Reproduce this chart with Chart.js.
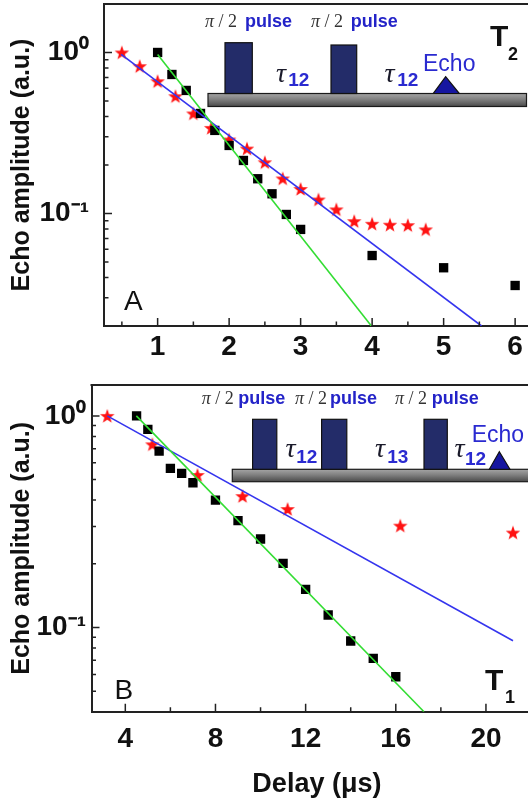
<!DOCTYPE html>
<html><head><meta charset="utf-8">
<script src="https://cdn.jsdelivr.net/npm/chart.js@4.4.1/dist/chart.umd.min.js"></script>
<style>
html,body{margin:0;padding:0;background:#fff;overflow:hidden;}
#wrap{position:relative;width:528px;height:805px;overflow:hidden;background:#fff;}
#cA{position:absolute;left:0;top:0;}
#cB{position:absolute;left:0;top:370px;}
</style></head><body>
<div id="wrap"><canvas id="cA" width="536" height="370"></canvas><canvas id="cB" width="545" height="435"></canvas></div>
<script>
// ---------- Panel A (T2) data ----------
const delayA_stars = [0.5, 0.75, 1.0, 1.25, 1.5, 1.75, 2.0, 2.25, 2.5, 2.75, 3.0, 3.25, 3.5, 3.75, 4.0, 4.25, 4.5, 4.75];
const ampA_stars   = [1.0, 0.822, 0.663, 0.535, 0.418, 0.340, 0.288, 0.253, 0.208, 0.165, 0.142, 0.122, 0.106, 0.0896, 0.0863, 0.0851, 0.0846, 0.0796];
const delayA_squares = [1.0, 1.2, 1.4, 1.6, 1.8, 2.0, 2.2, 2.4, 2.6, 2.8, 3.0, 4.0, 5.0, 6.0];
const ampA_squares   = [1.0, 0.730, 0.581, 0.418, 0.328, 0.2645, 0.2134, 0.1643, 0.1325, 0.0986, 0.0796, 0.0548, 0.046, 0.0357];
const fitA_green_x = [1.0, 3.99];
const fitA_green_y = [0.972, 0.02];
const fitA_blue_x  = [0.49, 5.53];
const fitA_blue_y  = [0.972, 0.02];
const xTicksA = [1, 2, 3, 4, 5, 6];
const xMinorA = [0.5, 1.5, 2.5, 3.5, 4.5, 5.5];
const yTicksA = [1, 0.1];
const yMinorA = [0.03, 0.04, 0.05, 0.06, 0.07, 0.08, 0.09, 0.2, 0.3, 0.4, 0.5, 0.6, 0.7, 0.8, 0.9];

// ---------- Panel B (T1) data ----------
const delayB_stars = [3.2, 5.2, 7.2, 9.2, 11.2, 16.2, 21.2];
const ampB_stars   = [1.0, 0.734, 0.526, 0.418, 0.363, 0.303, 0.281];
const delayB_squares = [4.5, 5.0, 5.5, 6.0, 6.5, 7.0, 8.0, 9.0, 10.0, 11.0, 12.0, 13.0, 14.0, 15.0, 16.0];
const ampB_squares   = [1.0, 0.864, 0.682, 0.565, 0.535, 0.483, 0.400, 0.320, 0.262, 0.201, 0.1515, 0.1146, 0.0863, 0.0715, 0.0585];
const fitB_green_x = [4.49, 17.25];
const fitB_green_y = [1.0, 0.04];
const fitB_blue_x  = [3.2, 21.2];
const fitB_blue_y  = [1.0, 0.0866];
const xTicksB = [4, 8, 12, 16, 20];
const xMinorB = [6, 10, 14, 18];
const yTicksB = [1, 0.1];
const yMinorB = [0.05, 0.06, 0.07, 0.08, 0.09, 0.2, 0.3, 0.4, 0.5, 0.6, 0.7, 0.8, 0.9];

const SANS = '"Liberation Sans", Arial, sans-serif';
const SERIF = '"Liberation Serif", "Times New Roman", serif';

function pts(xs, ys) { return xs.map((x, i) => ({ x: x, y: ys[i] })); }
const SUP = { '0': '⁰', '1': '¹', '2': '²', '3': '³', '4': '⁴', '5': '⁵', '6': '⁶', '7': '⁷', '8': '⁸', '9': '⁹', '-': '⁻' };
function powLabel(v) {
  const e = String(Math.round(Math.log10(v)));
  return '10' + e.split('').map(c => SUP[c]).join('');
}

const starImg = (() => {
  const c = document.createElement('canvas'); c.width = 16; c.height = 16;
  const g = c.getContext('2d'); g.fillStyle = '#ff1212'; g.beginPath();
  for (let i = 0; i < 10; i++) {
    const r = i % 2 ? 3.1 : 7.6; const a = -Math.PI / 2 + i * Math.PI / 5;
    g.lineTo(8 + r * Math.cos(a), 8.7 + r * Math.sin(a));
  }
  g.closePath(); g.fill(); return c;
})();

function datasets(sx, sy, qx, qy, gx, gy, bx, by) {
  return [
    { label: 'fit 1', data: pts(gx, gy), showLine: true, borderColor: '#33dd33', borderWidth: 1.6, pointRadius: 0, order: 0 },
    { label: 'fit 2', data: pts(bx, by), showLine: true, borderColor: '#3535ee', borderWidth: 1.6, pointRadius: 0, order: 0 },
    { label: 'squares', data: pts(qx, qy), showLine: false, pointStyle: 'rect', pointRadius: 6.6, backgroundColor: '#000', borderColor: '#000', borderWidth: 0, order: 1 },
    { label: 'stars', data: pts(sx, sy), showLine: false, pointStyle: starImg, pointRadius: 8, order: 1 }
  ];
}

function framePlugin(xMaj, xMin, yMaj, yMin) {
  return {
    id: 'frameTicks',
    afterDraw(chart) {
      const { ctx, chartArea: a, scales: { x, y } } = chart;
      ctx.save();
      ctx.strokeStyle = '#222'; ctx.lineWidth = 2;
      ctx.beginPath(); ctx.moveTo(a.left - 1, a.top); ctx.lineTo(a.right + 1, a.top); ctx.lineTo(a.right, a.bottom); ctx.stroke();
      ctx.lineWidth = 1.5;
      ctx.beginPath();
      xMaj.forEach(v => { const p = x.getPixelForValue(v); ctx.moveTo(p, a.bottom); ctx.lineTo(p, a.bottom - 8); });
      xMin.forEach(v => { const p = x.getPixelForValue(v); ctx.moveTo(p, a.bottom); ctx.lineTo(p, a.bottom - 4.5); });
      yMaj.forEach(v => { const p = y.getPixelForValue(v); ctx.moveTo(a.left, p); ctx.lineTo(a.left + 8, p); });
      yMin.forEach(v => { const p = y.getPixelForValue(v); ctx.moveTo(a.left, p); ctx.lineTo(a.left + 4.5, p); });
      ctx.stroke();
      ctx.restore();
    }
  };
}

// inset schematic (pixel layout of the drawing, not data)
function drawPiPulse(ctx, px, qx, base) {
  ctx.fillStyle = '#333';
  ctx.font = 'italic 18px ' + SERIF; ctx.textAlign = 'left'; ctx.textBaseline = 'alphabetic';
  ctx.fillText('π', px, base);
  const w = ctx.measureText('π').width;
  ctx.font = '18px ' + SERIF;
  ctx.fillText(' / 2', px + w, base);
  ctx.fillStyle = '#2323c8';
  ctx.font = 'bold 18px ' + SANS;
  ctx.fillText('pulse', qx, base);
}
function drawTau(ctx, tx, tb, sub, sx, sb) {
  ctx.fillStyle = '#1a1a2a';
  ctx.font = 'italic 28px ' + SERIF; ctx.textAlign = 'left'; ctx.textBaseline = 'alphabetic';
  ctx.fillText('τ', tx, tb);
  ctx.fillStyle = '#2a2ad0';
  ctx.font = 'bold 19px ' + SANS;
  ctx.fillText(sub, sx, sb);
}
function insetPlugin(spec) {
  return {
    id: 'inset',
    afterDraw(chart) {
      const ctx = chart.ctx; ctx.save();
      const b = spec.bar;
      const grd = ctx.createLinearGradient(0, b[1], 0, b[3]);
      grd.addColorStop(0, '#a5a5a5'); grd.addColorStop(0.45, '#808080'); grd.addColorStop(1, '#4a4a4a');
      ctx.fillStyle = grd; ctx.fillRect(b[0], b[1], b[2] - b[0], b[3] - b[1]);
      ctx.strokeStyle = '#1a1a1a'; ctx.lineWidth = 1.2; ctx.strokeRect(b[0], b[1], b[2] - b[0], b[3] - b[1]);
      spec.pulses.forEach(p => {
        ctx.fillStyle = '#232c69'; ctx.fillRect(p[0], p[1], p[2] - p[0], p[3] - p[1]);
        ctx.strokeStyle = '#111'; ctx.strokeRect(p[0], p[1], p[2] - p[0], p[3] - p[1]);
      });
      const t = spec.tri;
      ctx.beginPath(); ctx.moveTo(t[0], t[1]); ctx.lineTo(t[2], t[4]); ctx.lineTo(t[3], t[4]); ctx.closePath();
      ctx.fillStyle = '#1616a0'; ctx.fill(); ctx.strokeStyle = '#111'; ctx.stroke();
      spec.labels.forEach(l => drawPiPulse(ctx, l[0], l[1], spec.labelBase));
      spec.taus.forEach(u => drawTau(ctx, u[0], u[1], u[2], u[3], u[4]));
      ctx.fillStyle = '#2a2ad0'; ctx.font = '23px ' + SANS; ctx.textAlign = 'left'; ctx.textBaseline = 'alphabetic';
      ctx.fillText('Echo', spec.echo[0], spec.echo[1]);
      ctx.fillStyle = '#111'; ctx.font = 'bold 30px ' + SANS;
      ctx.fillText('T', spec.T[0], spec.T[1]);
      ctx.font = 'bold 18px ' + SANS;
      ctx.fillText(spec.T[2], spec.T[3], spec.T[4]);
      ctx.font = '28px ' + SANS;
      ctx.fillText(spec.panel[0], spec.panel[1], spec.panel[2]);
      ctx.restore();
    }
  };
}

function noPad(s) { s.paddingTop = 0; s.paddingBottom = 0; s.paddingLeft = 0; s.paddingRight = 0; }

function makeChart(id, cfg) {
  return new Chart(document.getElementById(id), {
    type: 'scatter',
    data: { datasets: datasets(...cfg.data) },
    options: {
      responsive: false, animation: false, devicePixelRatio: 1,
      layout: { padding: cfg.pad, autoPadding: false },
      plugins: { legend: { display: false }, tooltip: { enabled: false } },
      scales: {
        x: {
          type: 'linear', min: cfg.xmin, max: cfg.xmax,
          afterBuildTicks: s => { s.ticks = cfg.xt.map(v => ({ value: v })); },
          afterFit: s => { s.height = cfg.xh; noPad(s); },
          grid: { display: false, drawTicks: false },
          border: { display: true, color: '#222', width: 2 },
          ticks: { autoSkip: false, maxRotation: 0, padding: cfg.xpad, color: '#111', font: { family: SANS, size: 28, weight: 'bold' }, callback: v => String(v) },
          title: cfg.xtitle
        },
        y: {
          type: 'logarithmic', min: cfg.ymin, max: cfg.ymax,
          afterBuildTicks: s => { s.ticks = cfg.yt.map(v => ({ value: v })); },
          afterFit: s => { s.width = cfg.yw; noPad(s); },
          grid: { display: false, drawTicks: false },
          border: { display: true, color: '#222', width: 2 },
          ticks: { autoSkip: false, padding: cfg.ypad, color: '#111', font: { family: SANS, size: 28, weight: 'bold' }, callback: v => powLabel(v) },
          title: { display: true, text: 'Echo amplitude (a.u.)', color: '#111', font: { family: SANS, size: 25, weight: 'bold' }, padding: { top: 7, bottom: 0 } }
        }
      }
    },
    plugins: [cfg.frame, cfg.inset]
  });
}

makeChart('cA', {
  data: [delayA_stars, ampA_stars, delayA_squares, ampA_squares, fitA_green_x, fitA_green_y, fitA_blue_x, fitA_blue_y],
  pad: { top: 4, right: 3, left: 0, bottom: 0 },
  xmin: 0.25, xmax: 6.25, xt: xTicksA, xh: 44, xpad: 4,
  ymin: 0.02, ymax: 2, yt: yTicksA, yw: 104, ypad: 15,
  xtitle: { display: false },
  frame: framePlugin(xTicksA, xMinorA, yTicksA, yMinorA),
  inset: insetPlugin({
    bar: [208, 93.5, 526.5, 106.5],
    pulses: [[225, 42.7, 252.3, 93.5], [331, 45, 356.7, 93.5]],
    tri: [445.7, 76.7, 433.3, 459.3, 93.5],
    labelBase: 27, labels: [[205, 245], [311, 350.7]],
    taus: [[276, 81.7, '12', 288.3, 86], [384.5, 81.7, '12', 397.3, 86]],
    echo: [423, 71],
    T: [490, 46, '2', 508, 60],
    panel: ['A', 124, 310]
  })
});

makeChart('cB', {
  data: [delayB_stars, ampB_stars, delayB_squares, ampB_squares, fitB_green_x, fitB_green_y, fitB_blue_x, fitB_blue_y],
  pad: { top: 15, right: 2.7, left: 0, bottom: 0 },
  xmin: 2.5, xmax: 22.5, xt: xTicksB, xh: 93.3, xpad: 10.5,
  ymin: 0.04, ymax: 1.4, yt: yTicksB, yw: 91.5, ypad: 5.5,
  xtitle: { display: true, text: 'Delay (μs)', color: '#111', font: { family: SANS, size: 27, weight: 'bold' }, padding: { top: 0, bottom: 3.8 } },
  frame: framePlugin(xTicksB, xMinorB, yTicksB, yMinorB),
  inset: insetPlugin({
    bar: [232.3, 99.3, 560, 111.7],
    pulses: [[252.6, 49.3, 276.8, 99.3], [321.6, 49.3, 346.8, 99.3], [424, 49.3, 447.3, 99.3]],
    tri: [499.3, 81.7, 489.3, 510, 99.3],
    labelBase: 34, labels: [[201.7, 238.3], [295, 330], [395, 431.7]],
    taus: [[285.5, 87, '12', 296.3, 93], [375, 87, '13', 387.2, 93], [454.5, 87, '12', 465, 95]],
    echo: [471.7, 71.7],
    T: [485, 320, '1', 505, 333],
    panel: ['B', 114.5, 329]
  })
});
</script>
</body></html>
